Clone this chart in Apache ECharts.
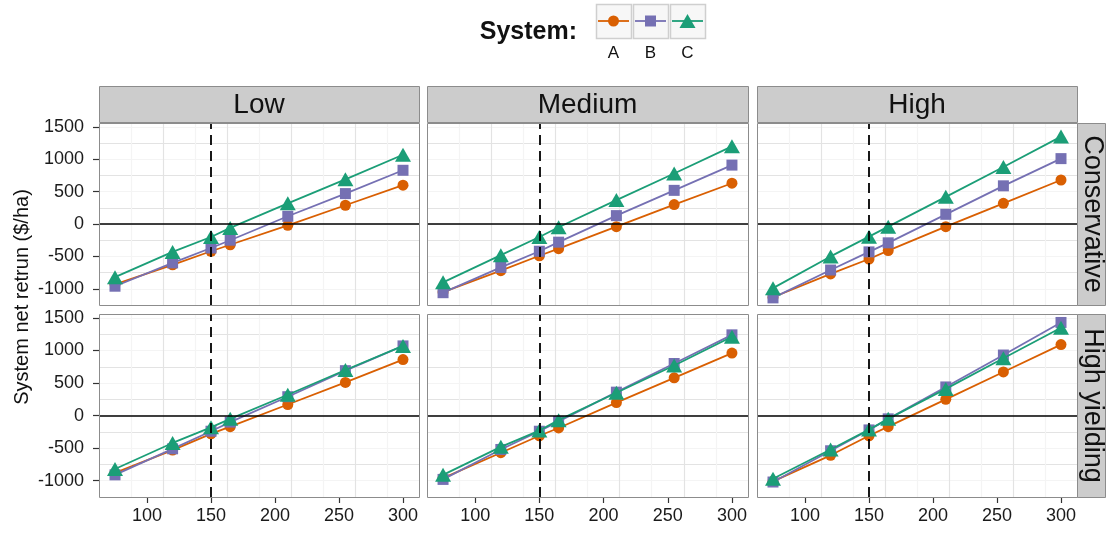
<!DOCTYPE html>
<html><head><meta charset="utf-8">
<script src="https://cdn.jsdelivr.net/npm/echarts@6/dist/echarts.min.js"></script>
<style>html,body{margin:0;padding:0;background:#fff}#c{width:1107px;height:533px}</style>
</head><body><div id="c"></div>
<script>
// ---------------- DATA ----------------
const xValues = [75, 120, 150, 165, 210, 255, 300];
const systems = ['A', 'B', 'C'];
const colLabels = ['Low', 'Medium', 'High'];
const rowLabels = ['Conservative', 'High yielding'];
const xTickLabels = [100, 150, 200, 250, 300];
const yTickLabels = [-1000, -500, 0, 500, 1000, 1500];
const vlineX = 150;
const hlineY = 0;
const yTitle = 'System net retrun ($/ha)';
const legendTitle = 'System:';

// Conservative row
const consLowA = [-930, -630, -420, -320, -20, 290, 600];
const consLowB = [-960, -600, -370, -250, 120, 470, 830];
const consLowC = [-820, -430, -200, -60, 320, 690, 1070];
const consMedA = [-1050, -720, -490, -380, -40, 300, 630];
const consMedB = [-1060, -670, -420, -280, 130, 520, 910];
const consMedC = [-900, -480, -200, -50, 370, 780, 1200];
const consHighA = [-1130, -770, -540, -410, -40, 320, 680];
const consHighB = [-1140, -710, -430, -290, 150, 590, 1010];
const consHighC = [-990, -500, -195, -40, 420, 880, 1350];
// High yielding row
const hyLowA = [-880, -530, -280, -170, 170, 510, 860];
const hyLowB = [-910, -510, -240, -100, 290, 690, 1070];
const hyLowC = [-820, -420, -180, -50, 320, 700, 1070];
const hyMedA = [-960, -570, -310, -190, 200, 580, 960];
const hyMedB = [-980, -520, -240, -90, 360, 800, 1240];
const hyMedC = [-910, -480, -230, -70, 350, 770, 1210];
const hyHighA = [-1010, -610, -310, -170, 250, 670, 1090];
const hyHighB = [-1020, -540, -220, -50, 440, 930, 1430];
const hyHighC = [-970, -520, -215, -50, 410, 880, 1350];

const panels = [
  [[consLowA, consLowB, consLowC], [consMedA, consMedB, consMedC], [consHighA, consHighB, consHighC]],
  [[hyLowA, hyLowB, hyLowC], [hyMedA, hyMedB, hyMedC], [hyHighA, hyHighB, hyHighC]]
];

// ---------------- STYLE / LAYOUT ----------------
const FONT = 'Liberation Sans, Arial, Helvetica, sans-serif';
const colors = ['#D95F02', '#7570B3', '#1B9E77'];
const symbols = ['circle', 'rect', 'triangle'];
const symbolSizes = [11, 11, [16, 14]];
const cols = [{ left: 99, width: 320 }, { left: 427, width: 321 }, { left: 757, width: 320 }];
const rows = [{ top: 123, height: 182 }, { top: 314, height: 183 }];
const X_MIN = 62.5, X_MAX = 312.5, Y_MIN = -1250, Y_MAX = 1560;
const MAJOR = '#e3e3e3', MINOR = '#f4f4f4', NONE = 'rgba(0,0,0,0)';
const BORDER = '#8c8c8c';
const plain = v => String(v);

const grid = [], xAxis = [], yAxis = [], series = [], graphic = [];

rows.forEach((r, ri) => {
  cols.forEach((c, ci) => {
    const p = ri * cols.length + ci;
    grid.push({ left: c.left, top: r.top, width: c.width, height: r.height, containLabel: false,
      show: true, backgroundColor: '#fff', borderWidth: 0 });
    const isBottom = ri === rows.length - 1;
    const isLeft = ci === 0;
    // primary axes (data + grid lines)
    xAxis.push({ type: 'value', gridIndex: p, min: X_MIN, max: X_MAX, interval: 12.5, position: 'bottom',
      axisLine: { show: false, onZero: false }, axisTick: { show: false }, axisLabel: { show: false },
      splitLine: { show: true, showMinLine: false, showMaxLine: false,
        lineStyle: { color: [NONE, MINOR, NONE, MAJOR], width: 1.2 } } });
    yAxis.push({ type: 'value', gridIndex: p, min: Y_MIN, max: Y_MAX, interval: 250, position: 'left',
      axisLine: { show: false, onZero: false }, axisTick: { show: false }, axisLabel: { show: false },
      splitLine: { show: true, showMinLine: false, showMaxLine: false,
        lineStyle: { color: [MINOR, MAJOR], width: 1.2 } } });
    // secondary axes (ticks + labels)
    xAxis.push({ type: 'value', gridIndex: p, min: X_MIN, max: X_MAX, position: 'bottom', show: isBottom,
      axisLine: { show: false, onZero: false },
      axisTick: { show: true, customValues: xTickLabels, length: 6, lineStyle: { color: '#333', width: 1.2 } },
      axisLabel: { show: true, customValues: xTickLabels, formatter: plain, margin: 10, fontSize: 18, color: '#1a1a1a', fontFamily: FONT },
      splitLine: { show: false } });
    yAxis.push({ type: 'value', gridIndex: p, min: Y_MIN, max: Y_MAX, position: 'left', show: isLeft,
      axisLine: { show: false, onZero: false },
      axisTick: { show: true, customValues: yTickLabels, length: 6, lineStyle: { color: '#333', width: 1.2 } },
      axisLabel: { show: true, customValues: yTickLabels, formatter: plain, margin: 15, fontSize: 18, color: '#1a1a1a', fontFamily: FONT },
      splitLine: { show: false } });

    panels[ri][ci].forEach((vals, si) => {
      const s = {
        type: 'line', name: systems[si], xAxisIndex: 2 * p, yAxisIndex: 2 * p,
        data: xValues.map((x, i) => [x, vals[i]]),
        symbol: symbols[si], symbolSize: symbolSizes[si], showSymbol: true,
        lineStyle: { color: colors[si], width: 1.8 },
        itemStyle: { color: colors[si], borderWidth: 0 },
        z: 2 + si, silent: true
      };
      if (si === 0) {
        s.markLine = {
          silent: true, symbol: 'none', label: { show: false }, z: 10,
          data: [
            { xAxis: vlineX, lineStyle: { color: '#000', width: 1.8, type: [10, 6] } },
            { yAxis: hlineY, lineStyle: { color: '#000', width: 1.6, type: 'solid' } }
          ]
        };
      }
      series.push(s);
    });

    // panel border
    graphic.push({ type: 'rect', silent: true, z: 100,
      shape: { x: c.left + 0.5, y: r.top + 0.5, width: c.width, height: r.height },
      style: { fill: null, stroke: BORDER, lineWidth: 1 } });
  });
});

// top strips
cols.forEach((c, ci) => {
  graphic.push({ type: 'rect', silent: true, z: 100,
    shape: { x: c.left + 0.5, y: 86.5, width: c.width, height: 36 },
    style: { fill: '#cccccc', stroke: BORDER, lineWidth: 1 } });
  graphic.push({ type: 'text', silent: true, z: 101, x: c.left + c.width / 2, y: 105,
    style: { text: colLabels[ci], fontSize: 28, fontFamily: FONT, fill: '#111', align: 'center', verticalAlign: 'middle' } });
});
// right strips
rows.forEach((r, ri) => {
  graphic.push({ type: 'rect', silent: true, z: 100,
    shape: { x: 1077.5, y: r.top + 0.5, width: 28, height: r.height },
    style: { fill: '#cccccc', stroke: BORDER, lineWidth: 1 } });
  graphic.push({ type: 'text', silent: true, z: 101, x: 1092, y: r.top + r.height / 2, rotation: -Math.PI / 2,
    style: { text: rowLabels[ri], fontSize: 27, fontFamily: FONT, fill: '#111', align: 'center', verticalAlign: 'middle' } });
});
// y title
graphic.push({ type: 'text', silent: true, z: 101, x: 22, y: 297, rotation: Math.PI / 2,
  style: { text: yTitle, fontSize: 20, fontFamily: FONT, fill: '#111', align: 'center', verticalAlign: 'middle' } });

// legend
graphic.push({ type: 'text', silent: true, z: 101, x: 577, y: 32,
  style: { text: legendTitle, fontSize: 25, fontWeight: 'bold', fontFamily: FONT, fill: '#111', align: 'right', verticalAlign: 'middle' } });
systems.forEach((name, si) => {
  const bx = 596 + si * 37, by = 4, bw = 35, bh = 34;
  const cx = bx + bw / 2, cy = by + bh / 2;
  graphic.push({ type: 'rect', silent: true, z: 100, shape: { x: bx + 0.5, y: by + 0.5, width: bw, height: bh },
    style: { fill: '#f7f7f7', stroke: '#cfcfcf', lineWidth: 1.5 } });
  graphic.push({ type: 'line', silent: true, z: 101, shape: { x1: bx + 2, y1: cy, x2: bx + bw - 2, y2: cy },
    style: { stroke: colors[si], lineWidth: 1.8 } });
  if (symbols[si] === 'circle') {
    graphic.push({ type: 'circle', silent: true, z: 102, shape: { cx: cx, cy: cy, r: 5.5 }, style: { fill: colors[si] } });
  } else if (symbols[si] === 'rect') {
    graphic.push({ type: 'rect', silent: true, z: 102, shape: { x: cx - 5.5, y: cy - 5.5, width: 11, height: 11 }, style: { fill: colors[si] } });
  } else {
    graphic.push({ type: 'polygon', silent: true, z: 102, shape: { points: [[cx, cy - 7], [cx + 8, cy + 7], [cx - 8, cy + 7]] }, style: { fill: colors[si] } });
  }
  graphic.push({ type: 'text', silent: true, z: 101, x: cx, y: 53,
    style: { text: name, fontSize: 17, fontFamily: FONT, fill: '#111', align: 'center', verticalAlign: 'middle' } });
});

const chart = echarts.init(document.getElementById('c'), null, { renderer: 'canvas' });
chart.setOption({
  animation: false,
  backgroundColor: '#fff',
  grid, xAxis, yAxis, series, graphic
});
</script>
</body></html>
